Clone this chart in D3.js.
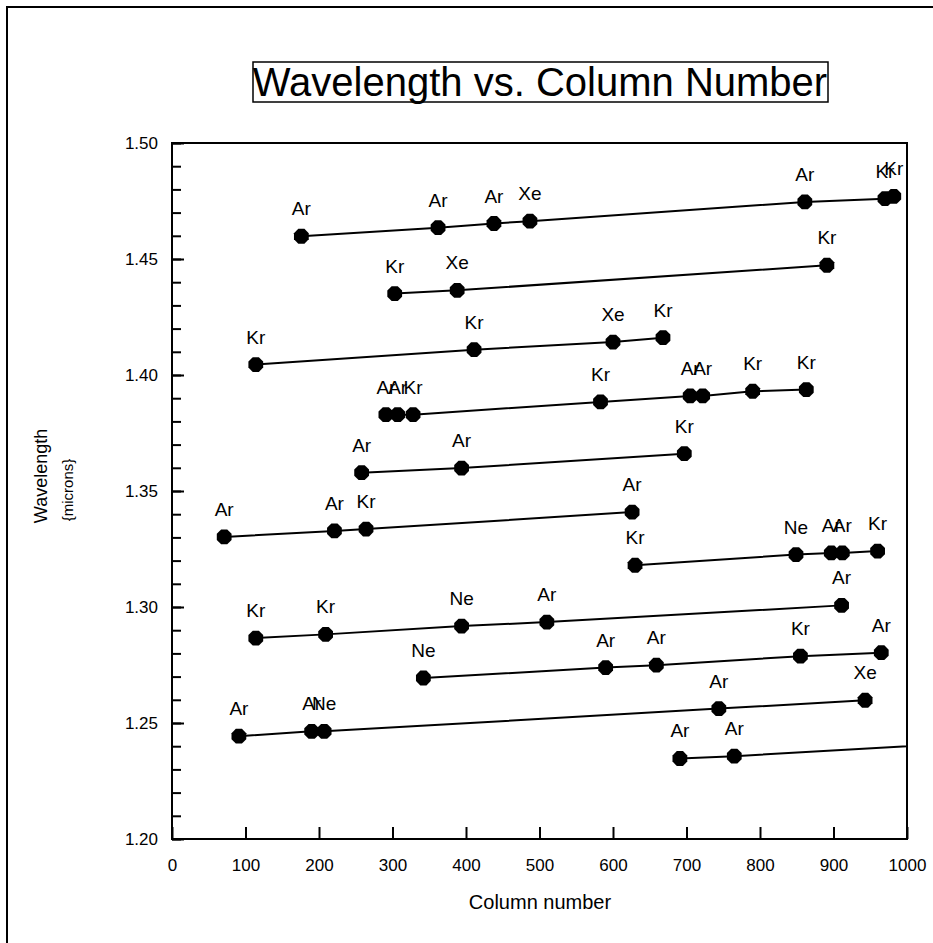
<!DOCTYPE html>
<html>
<head>
<meta charset="utf-8">
<script src="https://cdn.jsdelivr.net/npm/d3@7"></script>
<style>
  body { margin: 0; background: #fff; }
  svg text { font-family: Arial, "Liberation Sans", sans-serif; fill: #000; }
</style>
</head>
<body>
<div id="chart"></div>
<script>

/*
 * Wavelength vs. column number for the calibration lamp lines.
 * Each row in the arrays below is one spectral order.
 */
var lineCols = [
  [176, 362, 438, 487, 861, 970, 982],
  [303, 388, 891],
  [114, 411, 600, 668],
  [291, 307, 328, 583, 705, 722, 790, 863],
  [258, 394, 697],
  [71, 221, 264, 626],
  [630, 849, 897, 912, 960],
  [114, 209, 394, 510, 911],
  [342, 590, 659, 855, 965],
  [91, 190, 207, 744, 943],
  [691, 765, 1050]
];

var lineWaves = [
  [1.4598, 1.4635, 1.4653, 1.4663, 1.4746, 1.4760, 1.4770],
  [1.4351, 1.4365, 1.4473],
  [1.4045, 1.4109, 1.4142, 1.4161],
  [1.3829, 1.3829, 1.3829, 1.3884, 1.3910, 1.3910, 1.3930, 1.3937],
  [1.3579, 1.3599, 1.3661],
  [1.3302, 1.3328, 1.3336, 1.3409],
  [1.3180, 1.3226, 1.3233, 1.3233, 1.3241],
  [1.2866, 1.2882, 1.2918, 1.2935, 1.3007],
  [1.2694, 1.2739, 1.2749, 1.2788, 1.2803],
  [1.2443, 1.2464, 1.2464, 1.2562, 1.2598],
  [1.2347, 1.2357, 1.2409]
];

var lineGases = [
  ["Ar", "Ar", "Ar", "Xe", "Ar", "Kr", "Kr"],
  ["Kr", "Xe", "Kr"],
  ["Kr", "Kr", "Xe", "Kr"],
  ["Ar", "Ar", "Kr", "Kr", "Ar", "Ar", "Kr", "Kr"],
  ["Ar", "Ar", "Kr"],
  ["Ar", "Ar", "Kr", "Ar"],
  ["Kr", "Ne", "Ar", "Ar", "Kr"],
  ["Kr", "Kr", "Ne", "Ar", "Ar"],
  ["Ne", "Ar", "Ar", "Kr", "Ar"],
  ["Ar", "Ar", "Ne", "Ar", "Xe"],
  ["Ar", "Ar", "Ar"]
];

var xTicks      = [0, 100, 200, 300, 400, 500, 600, 700, 800, 900, 1000];
var yTicks      = [1.20, 1.25, 1.30, 1.35, 1.40, 1.45, 1.50];
var titleText   = "Wavelength vs. Column Number";
var xLabelText  = "Column number";
var yLabelText  = "Wavelength";
var yUnitText   = "{microns}";

var width  = 933;
var height = 943;
var plot   = {left: 172, top: 143, right: 907, bottom: 839};

var svg = d3.select("#chart").append("svg")
  .attr("width",  width)
  .attr("height", height);

// outer frame round the whole figure
svg.append("rect")
  .attr("x",            7)
  .attr("y",            7)
  .attr("width",        width + 20)
  .attr("height",       height + 20)
  .attr("fill",         "none")
  .attr("stroke",       "#000")
  .attr("stroke-width", 2);

var x = d3.scaleLinear().domain([0, 1000]).range([plot.left, plot.right]);
var y = d3.scaleLinear().domain([1.20, 1.50]).range([plot.bottom, plot.top]);

// minor y ticks every 0.01, no labels
svg.append("g")
  .attr("transform", "translate(" + plot.left + ",0)")
  .call(d3.axisLeft(y)
    .tickValues(d3.range(120, 151).map(function(v) { return v / 100; }))
    .tickSize(-9)
    .tickFormat(""))
  .call(function(g) { g.select(".domain").remove(); })
  .selectAll("line").attr("stroke-width", 2);

// major y ticks
var yAxis = svg.append("g")
  .attr("transform", "translate(" + plot.left + ",0)")
  .call(d3.axisLeft(y)
    .tickValues(yTicks)
    .tickSize(-12)
    .tickSizeOuter(0)
    .tickPadding(14)
    .tickFormat(d3.format(".2f")));

yAxis.selectAll("line").attr("stroke-width", 2);
yAxis.select(".domain").remove();
yAxis.selectAll("text")
  .attr("font-size",   17)
  .attr("font-family", null);

// x ticks
var xAxis = svg.append("g")
  .attr("transform", "translate(0," + plot.bottom + ")")
  .call(d3.axisBottom(x)
    .tickValues(xTicks)
    .tickSize(-12)
    .tickSizeOuter(0)
    .tickPadding(20)
    .tickFormat(d3.format("d")));

xAxis.selectAll("line").attr("stroke-width", 2);
xAxis.select(".domain").remove();
xAxis.selectAll("text")
  .attr("font-size",   17)
  .attr("font-family", null);

// box round the plot area
svg.append("rect")
  .attr("x",            plot.left)
  .attr("y",            plot.top)
  .attr("width",        plot.right  - plot.left)
  .attr("height",       plot.bottom - plot.top)
  .attr("fill",         "none")
  .attr("stroke",       "#000")
  .attr("stroke-width", 2);

svg.append("clipPath")
  .attr("id", "plotClip")
  .append("rect")
  .attr("x",      plot.left)
  .attr("y",      plot.top - 40)
  .attr("width",  plot.right  - plot.left)
  .attr("height", plot.bottom - plot.top + 40);

var series = lineCols.map(function(cols, i) {
  return cols.map(function(c, j) {
    return {col: c, wave: lineWaves[i][j], gas: lineGases[i][j]};
  });
});

var marks = svg.append("g").attr("clip-path", "url(#plotClip)");

var line = d3.line()
  .x(function(d) { return x(d.col); })
  .y(function(d) { return y(d.wave); });

marks.selectAll("path.order")
  .data(series)
  .enter()
  .append("path")
  .attr("class",        "order")
  .attr("d",            line)
  .attr("fill",         "none")
  .attr("stroke",       "#000")
  .attr("stroke-width", 2);

// filled octagon markers
var octagon = d3.range(8).map(function(k) {
  var a = Math.PI / 8 + k * Math.PI / 4;
  return [8 * Math.cos(a), 8 * Math.sin(a)];
});
var octPath = "M" + octagon.join("L") + "Z";

var points = d3.merge(series);

marks.selectAll("path.pt")
  .data(points)
  .enter()
  .append("path")
  .attr("class",     "pt")
  .attr("d",         octPath)
  .attr("transform", function(d) {
    return "translate(" + x(d.col) + "," + y(d.wave) + ")"; })
  .attr("fill",      "#000");

marks.selectAll("text.gas")
  .data(points)
  .enter()
  .append("text")
  .attr("class",       "gas")
  .attr("x",           function(d) { return x(d.col); })
  .attr("y",           function(d) { return y(d.wave) - 21; })
  .attr("font-size",   19)
  .attr("text-anchor", "middle")
  .text(function(d) { return d.gas; });

// title in its own box
svg.append("text")
  .attr("x",           540)
  .attr("y",           96)
  .attr("font-size",   40)
  .attr("text-anchor", "middle")
  .text(titleText);

svg.append("rect")
  .attr("x",            253)
  .attr("y",            62)
  .attr("width",        828 - 253)
  .attr("height",       40)
  .attr("fill",         "none")
  .attr("stroke",       "#000")
  .attr("stroke-width", 1.5);

// axis titles
svg.append("text")
  .attr("x",           540)
  .attr("y",           909)
  .attr("font-size",   20)
  .attr("text-anchor", "middle")
  .text(xLabelText);

svg.append("text")
  .attr("transform",   "translate(47,476) rotate(-90)")
  .attr("font-size",   18)
  .attr("text-anchor", "middle")
  .text(yLabelText);

svg.append("text")
  .attr("transform",   "translate(73,490) rotate(-90)")
  .attr("font-size",   15)
  .attr("text-anchor", "middle")
  .text(yUnitText);

</script>
</body>
</html>
